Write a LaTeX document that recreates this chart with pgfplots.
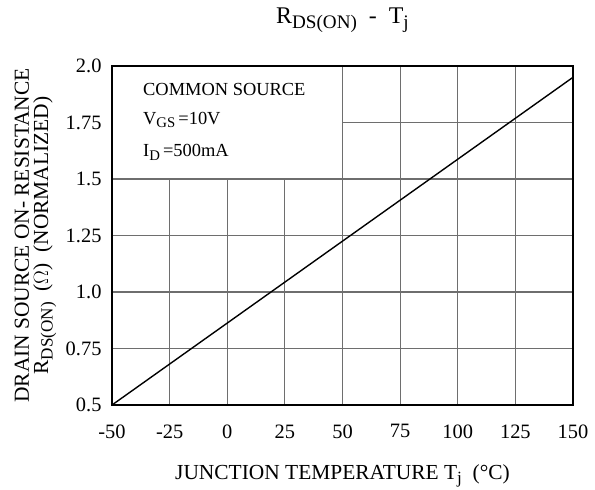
\documentclass[border=0pt]{standalone}
\usepackage{fontspec}
\setmainfont{Liberation Serif}
\usepackage{pgfplots}
\pgfplotsset{compat=1.18}
\usetikzlibrary{calc}

\newcommand{\sub}[1]{\raisebox{-0.45ex}{\fontsize{0.8em}{1em}\selectfont #1}}
\definecolor{gridgray}{RGB}{110,110,110}

\begin{document}
\begin{tikzpicture}
\begin{axis}[
    name=ax,
    scale only axis,
    width=461bp, height=339bp,
    xmin=-50, xmax=150, ymin=0.5, ymax=2.0,
    xtick={-50,-25,0,25,50,75,100,125,150},
    xticklabels={-50,-25,0,25,50,75,100,125,150},
    ytick={0.5,0.75,1.0,1.25,1.5,1.75,2.0},
    yticklabels={0.5,0.75,1.0,1.25,1.5,1.75,2.0},
    major tick length=0pt,
    axis on top,
    axis line style={line width=1.5pt, black},
    tick label style={font=\fontsize{20.5}{22}\selectfont},
    xticklabel style={yshift=-16bp},
    yticklabel style={xshift=-7bp},
    title={R\sub{DS(ON)}\ \ -\ \ T\sub{j}},
    title style={font=\fontsize{24}{26}\selectfont, at={(axis description cs:0.5,1)}, anchor=center, yshift=40bp},
    xlabel={JUNCTION TEMPERATURE T\sub{j}\ \ (\textdegree C)},
    xlabel style={font=\fontsize{21.5}{23}\selectfont, at={(axis description cs:0.5,0)}, anchor=center, yshift=-71bp},
    ylabel={DRAIN SOURCE ON- RESISTANCE\\R\sub{DS(ON)}\ \ ($\Omega$)\ \ (NORMALIZED)},
    ylabel style={font=\fontsize{21.5}{19.5}\selectfont, align=center, at={(axis description cs:-0.166,0.5)}, anchor=center},
]
% partial grid, left open where the condition box sits
\draw[gridgray, line width=1.1pt]
    (axis cs:-25,0.5) -- (axis cs:-25,1.5)
    (axis cs:0,0.5) -- (axis cs:0,1.5)
    (axis cs:25,0.5) -- (axis cs:25,1.5)
    (axis cs:50,0.5) -- (axis cs:50,2.0)
    (axis cs:75,0.5) -- (axis cs:75,2.0)
    (axis cs:100,0.5) -- (axis cs:100,2.0)
    (axis cs:125,0.5) -- (axis cs:125,2.0)
    (axis cs:-50,0.75) -- (axis cs:150,0.75)
    (axis cs:-50,1.0) -- (axis cs:150,1.0)
    (axis cs:-50,1.25) -- (axis cs:150,1.25)
    (axis cs:-50,1.5) -- (axis cs:150,1.5)
    (axis cs:50,1.75) -- (axis cs:150,1.75);
\addplot[black, line width=1.4pt] coordinates {(-50,0.5) (150,1.95)};
\node[anchor=west, font=\fontsize{18.5}{20}\selectfont] at (axis cs:-38,1.898) {COMMON SOURCE};
\node[anchor=west, font=\fontsize{18.5}{20}\selectfont] at (axis cs:-38,1.761) {V\sub{GS}\,=10V};
\node[anchor=west, font=\fontsize{18.5}{20}\selectfont] at (axis cs:-38,1.619) {I\sub{D}\,=500mA};
\end{axis}
\pgfresetboundingbox
\path ($(ax.south west)+(-112bp,-85bp)$) rectangle ($(ax.north east)+(22bp,66bp)$);
\end{tikzpicture}
\end{document}
